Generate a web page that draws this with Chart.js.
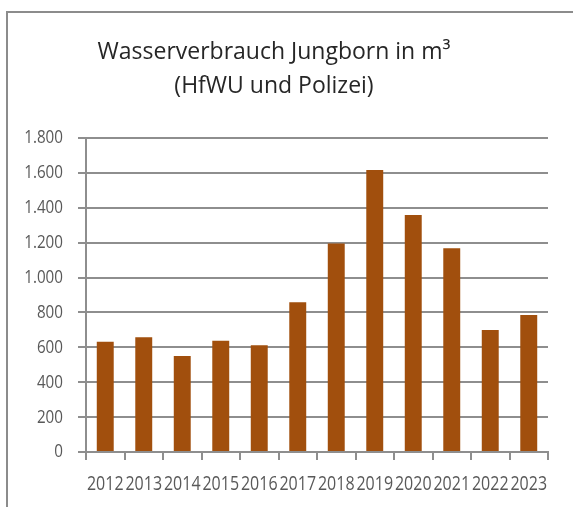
<!DOCTYPE html>
<html lang="de">
<head>
    <meta charset="UTF-8">
    <title>Wasserverbrauch Jungborn</title>
    <script src="https://cdn.jsdelivr.net/npm/chart.js"></script>
    <style>
        html, body {
            margin: 0;
            padding: 0;
            background: #ffffff;
        }
        #rahmen {
            position: absolute;
            left: 6px;
            top: 11px;
            width: 600px;
            height: 520px;
            border-left: 2px solid #8c8c8c;
            border-top: 2px solid #8c8c8c;
        }
        #wrap {
            position: absolute;
            left: 0;
            top: 0;
            width: 573px;
            height: 507px;
        }
    </style>
</head>
<body>
    <div id="rahmen"></div>
    <div id="wrap"><canvas id="grafik"></canvas></div>

    <script>
        // Daten
        var jahre = ['2012', '2013', '2014', '2015', '2016', '2017', '2018', '2019', '2020', '2021', '2022', '2023'];
        var verbrauch = [632, 658, 550, 638, 612, 858, 1195, 1617, 1359, 1168, 700, 786];
        var titelZeilen = ['Wasserverbrauch Jungborn in m³', '(HfWU und Polizei)'];

        var schriftAchse = "'Open Sans', sans-serif";
        var gitterFarbe = '#8e8e8e';

        // Achsenbeschriftung schmaler zeichnen (im Original eine Condensed-Schrift)
        var schmal = {
            id: 'schmal',
            beforeDraw: function (chart) {
                var c = chart.ctx;
                if (c._fillOrig) return;
                c._fillOrig = c.fillText;
                c.fillText = function (text, x, y, maxW) {
                    if (this.font.indexOf('19px') < 0 && this.font.indexOf('20px') < 0) {
                        return this._fillOrig(text, x, y, maxW);
                    }
                    this.save();
                    this.translate(x, y);
                    this.scale(0.8, 1);
                    this._fillOrig(text, 0, 0);
                    this.restore();
                };
            }
        };

        var ctx = document.getElementById('grafik').getContext('2d');
        var diagramm = new Chart(ctx, {
            type: 'bar',
            data: {
                labels: jahre,
                datasets: [{
                    label: 'Wasserverbrauch',
                    data: verbrauch,
                    backgroundColor: '#a14f0d',
                    borderWidth: 0,
                    barPercentage: 0.44,
                    categoryPercentage: 1.0
                }]
            },
            options: {
                responsive: true,
                maintainAspectRatio: false,
                animation: false,
                layout: {
                    padding: { left: 0, right: 25, top: 0, bottom: 0 }
                },
                plugins: {
                    legend: { display: false },
                    tooltip: { enabled: false },
                    title: {
                        display: true,
                        text: titelZeilen,
                        color: '#262626',
                        font: { family: "'Open Sans', sans-serif", size: 23, weight: 'normal', lineHeight: 1.48 },
                        padding: { top: 35, bottom: 35 }
                    }
                },
                scales: {
                    x: {
                        offset: true,
                        grid: {
                            display: true,
                            offset: true,
                            drawOnChartArea: false,
                            tickLength: 8,
                            color: gitterFarbe,
                            lineWidth: 2
                        },
                        border: { color: gitterFarbe, width: 2 },
                        ticks: {
                            color: '#595959',
                            font: { family: schriftAchse, size: 20 },
                            padding: 12,
                            maxRotation: 0,
                            autoSkip: false
                        },
                        afterFit: function (skala) { skala.height = 55; }
                    },
                    y: {
                        min: 0,
                        max: 1800,
                        grid: {
                            color: gitterFarbe,
                            lineWidth: 2,
                            tickLength: 8
                        },
                        border: { color: gitterFarbe, width: 2 },
                        ticks: {
                            stepSize: 200,
                            color: '#595959',
                            font: { family: schriftAchse, size: 19 },
                            padding: 15,
                            callback: function (wert) {
                                return wert.toLocaleString('de-DE');
                            }
                        },
                        afterFit: function (skala) { skala.width = 86; }
                    }
                }
            },
            plugins: [schmal]
        });
    </script>
</body>
</html>
